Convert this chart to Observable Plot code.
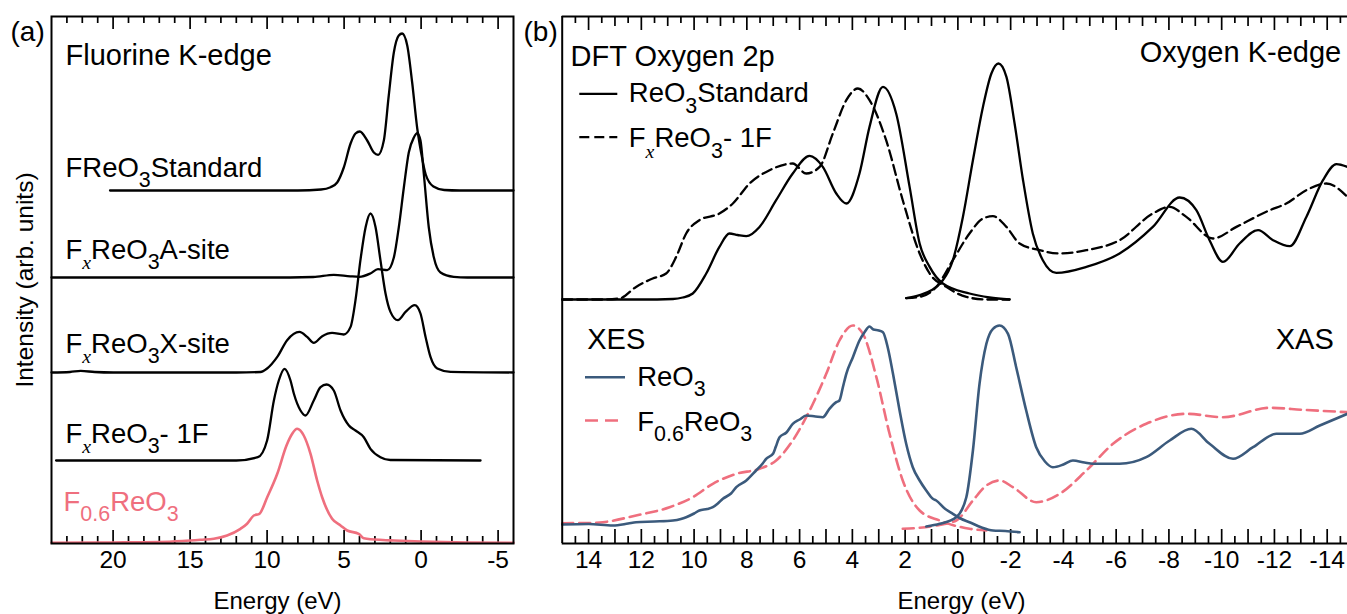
<!DOCTYPE html>
<html><head><meta charset="utf-8">
<script src="https://cdn.jsdelivr.net/npm/d3@7"></script>
<script src="https://cdn.jsdelivr.net/npm/@observablehq/plot@0.6"></script>
<style>
html,body{margin:0;padding:0;background:#fff;overflow:hidden}
#wrap{display:flex;width:1347px;height:614px;background:#fff}
svg{display:block}
</style></head><body><div id="wrap"></div>
<script>
// ---------- Panel (a): Fluorine K-edge, [energy (eV), intensity (arb.)] ----------
const fStandard = [[20.2,0],[8,0],[6.5,1],[5.88,3.3],[5.45,8],[5.02,23],[4.58,47],[4.26,57],[3.98,59],[3.5,50],[3.07,38],[2.79,35.7],[2.42,50],[2.10,95],[1.77,138],[1.45,155],[1.23,157],[0.90,145],[0.58,108],[0.25,62],[0.0,38],[-0.3,16],[-0.8,4],[-1.5,0.5],[-2.5,0],[-6,0]];
const fAsite = [[24,0],[10,0],[7,0.5],[5.67,2.7],[4.6,1.2],[4.0,0.7],[3.3,4],[2.8,8.3],[2.2,7.3],[1.77,20],[1.45,50],[1.12,90],[0.8,125],[0.47,140],[0.25,144.4],[0.04,137],[-0.18,103],[-0.5,50],[-0.83,20],[-1.26,5],[-2.12,0.7],[-3,0],[-6,0]];
const fXsite = [[24,0],[22.8,0.5],[22.1,1.6],[21.2,0.5],[20,0],[12,0],[10.43,0.5],[10.0,4],[9.34,15.6],[8.7,32.3],[7.9,40.6],[7.4,35.6],[6.97,29.6],[6.42,36.3],[5.78,39.6],[5.02,38],[4.58,45.6],[4.26,72.3],[3.94,112.3],[3.6,145.6],[3.29,159],[2.96,145.6],[2.64,112.3],[2.31,79],[1.99,60.6],[1.51,52.3],[1.01,60.6],[0.41,67.3],[0.04,59],[-0.29,35.6],[-0.61,15.6],[-1.05,4],[-1.91,0.6],[-6,0]];
const f1F = [[23.7,0],[12,0],[10.6,3.3],[10.0,20],[9.56,60],[9.24,80],[8.87,91.7],[8.48,80],[8.26,66.7],[7.83,50],[7.51,45],[6.97,60],[6.53,73.3],[6.14,76],[5.67,70],[5.23,50],[4.69,35],[4.26,30],[3.72,23.3],[3.29,11.7],[2.64,3.3],[2.0,0.5],[-3.86,0]];
const fXES06 = [[24,0.7],[20,1],[17,1.5],[15.5,2.5],[14.32,3.7],[13.46,4.7],[12.6,8],[11.73,14.7],[11.3,19.7],[10.86,28],[10.5,29.7],[10.0,46],[9.34,69.7],[8.74,98],[8.37,109.7],[8.05,114.7],[7.62,108],[7.18,89.7],[6.75,63],[6.42,46],[5.78,24.7],[5.23,18],[4.8,13],[4.05,9.7],[3.72,5.3],[2.5,3.5],[1.77,3],[0,2],[-3,1],[-6,0.7]];
const panelAOffsets = [353, 266, 171, 83, 0]; // vertical stacking of the five spectra
const panelALabels = ["FReO{3}Standard", "F[x]ReO{3}A-site", "F[x]ReO{3}X-site", "F[x]ReO{3}- 1F"];
const panelAPinkLabel = "F{0.6}ReO{3}";
const panelATitle = "Fluorine K-edge";
const panelATicks = [20, 15, 10, 5, 0, -5];

// ---------- Panel (b): Oxygen 2p DFT and O K-edge XES / XAS ----------
const dftStdVB = [[15,0],[12,0],[10.8,0.5],[10.43,2],[10.05,6],[9.54,26],[9.04,52.6],[8.66,66],[8.35,64.5],[8.02,63.3],[7.52,72.6],[6.89,99.3],[6.26,126],[5.62,143.6],[5.12,132.6],[4.61,106],[4.23,96],[3.73,126],[3.35,172.6],[2.84,212.6],[2.34,186],[1.83,112.6],[1.45,56],[1.07,32.6],[0.57,16],[-0.44,6],[-1.2,2],[-1.96,0]];
const dftFVB = [[15,0],[13.5,0],[12.83,1],[12.2,12.6],[11.57,21],[11.06,26],[10.68,42.6],[10.3,66],[9.8,79.3],[9.04,86],[8.53,96],[7.9,116],[7.14,129.3],[6.26,136],[5.75,126],[5.24,132.6],[4.74,166],[4.23,199.3],[3.79,211],[3.35,199.3],[2.72,159.3],[2.09,99.3],[1.45,46],[1.07,26],[0.44,12.6],[-0.32,2.6],[-1.08,0],[-1.96,0]];
const dftStdCB = [[1.96,1.3],[1.45,4.3],[0.57,19.3],[0.19,39.3],[-0.19,82.6],[-0.57,139.3],[-0.95,192.6],[-1.27,226],[-1.54,236],[-1.84,222.6],[-2.15,176],[-2.47,119.3],[-2.84,66],[-3.22,39.3],[-3.73,26.6],[-4.87,32.6],[-6.13,46],[-7.39,72.6],[-8.41,102],[-9.04,89.3],[-9.54,59.3],[-10.05,37.6],[-10.68,56],[-11.38,69.3],[-11.95,59.3],[-12.58,53.3],[-13.21,82.6],[-13.84,119.3],[-14.35,135.3],[-14.77,132.6]];
const dftFCB = [[1.96,1.3],[1.45,2.6],[0.82,12.6],[0.19,39.3],[-0.44,66],[-0.95,81],[-1.33,83.3],[-1.84,72.6],[-2.34,56],[-3.1,49.3],[-3.86,46],[-4.87,49.3],[-6.13,59.3],[-7.39,86],[-8.03,92.6],[-8.66,82.6],[-9.67,61],[-10.56,72.6],[-11.82,89.3],[-12.45,96],[-13.21,109.3],[-13.97,116],[-14.77,102.6]];
const xesReO3 = [[15,19],[14,19.5],[13.08,18],[12.5,20],[12.2,21.3],[11.5,22],[10.8,23],[10.5,24.5],[10.3,26.3],[10.0,30],[9.8,33],[9.5,34.5],[9.29,36.3],[9.1,40],[8.91,44.7],[8.6,50],[8.4,56.3],[8.02,63],[7.65,73],[7.4,80],[7.27,84.7],[7.0,90],[6.9,97],[6.76,106.3],[6.5,111],[6.26,119.7],[6.0,124],[5.75,128],[5.4,127],[5.12,126.3],[4.87,134.7],[4.61,141.3],[4.49,143],[4.36,156.3],[4.23,169.7],[3.98,186.3],[3.73,203],[3.54,211.3],[3.35,217],[3.2,214],[3.0,213],[2.84,211.3],[2.65,195],[2.46,169.7],[2.21,133],[1.96,99.7],[1.71,76.3],[1.45,63],[1.2,53],[0.95,44.7],[0.82,43],[0.5,35],[0.19,29.7],[-0.1,25],[-0.44,21.3],[-0.9,16],[-1.33,13],[-1.8,12.5],[-2.34,11.3]];
const xesF06 = [[15,20.3],[14,20.5],[13.46,21.3],[12.2,28],[10.93,36.3],[10.05,46.3],[9.29,59.7],[8.4,69.7],[7.52,74.7],[6.89,83],[6.26,103],[5.62,133],[4.99,169.7],[4.49,203],[3.98,218],[3.6,209.7],[3.09,166.3],[2.59,109.7],[2.09,63],[1.45,33],[0.69,23],[-0.44,14.7],[-1.08,13]];
const xasReO3 = [[1.2,17],[0.69,19.7],[0.06,26.3],[-0.32,46.3],[-0.57,93],[-0.82,159.7],[-1.08,199.7],[-1.33,214.7],[-1.58,218],[-1.9,209.7],[-2.21,176.3],[-2.59,133],[-2.97,96.3],[-3.3,82],[-3.6,76.3],[-4.0,79],[-4.36,83],[-4.8,81],[-5.12,79.7],[-6.13,79.7],[-7.14,86.3],[-8.03,103],[-8.85,114.7],[-9.54,99.7],[-10.43,84.7],[-11.19,96.3],[-12.07,109.7],[-12.96,109.7],[-13.72,118],[-14.77,129.7]];
const xasF06 = [[2.09,14.7],[0.82,18],[0.06,23],[-0.57,43],[-1.08,58],[-1.58,63],[-2.09,56.3],[-2.97,41.3],[-3.86,49.7],[-4.87,73],[-5.88,99.7],[-7.14,119.7],[-8.66,129.7],[-10.05,126.3],[-11.82,135.7],[-13.08,133.7],[-14.77,131.3]];
const dftOffset = 244;
const panelBTicks = [14, 12, 10, 8, 6, 4, 2, 0, -2, -4, -6, -8, -10, -12, -14];
const panelBLabels = {dft: "DFT Oxygen 2p", k: "Oxygen K-edge", std: "ReO{3}Standard", f1: "F[x]ReO{3}- 1F", xes: "XES", xas: "XAS", reo3: "ReO{3}", f06: "F{0.6}ReO{3}"};
const axisLabel = "Energy (eV)";
const yLabel = "Intensity (arb. units)";

// ---------- styling ----------
const FONT = "'Liberation Sans', Arial, Helvetica, sans-serif";
const BLUE = "#3b5a7c", PINK = "#ef6f7e";
const H = 614, MT = 16, MB = 71, IH = H - MT - MB;
const TITLE = 29, LAB = 27.5, TICK = 24.5;
const LW = 2.3;
const fx = d => d[0];

function txt(t, o) {
  return Plot.text([t], {text: d => d, lineAnchor: "bottom", textAnchor: "start", fontSize: LAB, fill: "black", ...o});
}
function ticks(values, len, top) {
  return Plot.ruleX(values, {x: d => d, stroke: "black", strokeWidth: 1.7, ...(top ? {insetBottom: IH - len} : {insetTop: IH - len})});
}

// ---------- Panel (a) ----------
const minorA = d3.range(-5, 24).filter(d => d % 5 !== 0);
const WA = 520, MLA = 51, MRA = 7;
const plotA = Plot.plot({
  width: WA, height: H, marginLeft: MLA, marginRight: MRA, marginTop: MT, marginBottom: MB,
  x: {domain: [24, -6], axis: null},
  y: {domain: [0, IH], axis: null},
  style: {fontFamily: FONT, background: "white", overflow: "visible"},
  marks: [
    ticks(minorA, 7, false), ticks(panelATicks, 13, false),
    ticks(minorA, 7, true), ticks(panelATicks, 13, true),
    Plot.axisX({anchor: "bottom", ticks: panelATicks, tickSize: 0, tickPadding: 7, fontSize: TICK, tickFormat: d => `${d}`, label: null}),
    Plot.line(fXES06, {x: fx, y: d => d[1] + panelAOffsets[4], stroke: PINK, strokeWidth: 2.6, curve: "monotone-x"}),
    Plot.line(f1F, {x: fx, y: d => d[1] + panelAOffsets[3], stroke: "black", strokeWidth: LW, curve: "monotone-x"}),
    Plot.line(fXsite, {x: fx, y: d => d[1] + panelAOffsets[2], stroke: "black", strokeWidth: LW, curve: "monotone-x"}),
    Plot.line(fAsite, {x: fx, y: d => d[1] + panelAOffsets[1], stroke: "black", strokeWidth: LW, curve: "monotone-x"}),
    Plot.line(fStandard, {x: fx, y: d => d[1] + panelAOffsets[0], stroke: "black", strokeWidth: LW, curve: "monotone-x"}),
    Plot.frame({stroke: "black", strokeWidth: 2}),
    txt("(a)", {frameAnchor: "top-left", dx: -41, dy: 24, fontSize: 28}),
    txt(panelATitle, {frameAnchor: "top-left", dx: 14, dy: 48, fontSize: TITLE}),
    txt(panelALabels[0], {frameAnchor: "top-left", dx: 14, dy: 160}),
    txt(panelALabels[1], {frameAnchor: "top-left", dx: 14, dy: 242}),
    txt(panelALabels[2], {frameAnchor: "top-left", dx: 14, dy: 336}),
    txt(panelALabels[3], {frameAnchor: "top-left", dx: 14, dy: 426}),
    txt(panelAPinkLabel, {frameAnchor: "top-left", dx: 12, dy: 494, fill: PINK}),
    Plot.text([yLabel], {text: d => d, frameAnchor: "left", textAnchor: "middle", lineAnchor: "middle", dx: -26, rotate: -90, fontSize: 24.5, fill: "black"}),
    txt(axisLabel, {frameAnchor: "bottom", textAnchor: "middle", dx: -5, dy: 65, fontSize: 24})
  ]
});

// ---------- Panel (b) ----------
const halvesB = d3.range(-29, 30).map(d => d / 2).filter(d => !Number.isInteger(d));
const intsB = d3.range(-14, 15);
const oddB = intsB.filter(d => d % 2 !== 0);
const WB = 827, MLB = 41.7, IWB = WB - MLB;
const plotB = Plot.plot({
  width: WB, height: H, marginLeft: MLB, marginRight: 0, marginTop: MT, marginBottom: MB,
  x: {domain: [15, -14.77], axis: null},
  y: {domain: [0, IH], axis: null},
  style: {fontFamily: FONT, background: "white", overflow: "visible"},
  marks: [
    ticks(halvesB, 7, false), ticks(intsB, 14, false),
    ticks(halvesB, 7, true), ticks(oddB, 10, true), ticks(panelBTicks, 14, true),
    Plot.axisX({anchor: "bottom", ticks: panelBTicks, tickSize: 0, tickPadding: 7, fontSize: TICK, tickFormat: d => `${d}`, label: null}),
    Plot.line(dftStdVB, {x: fx, y: d => d[1] + dftOffset, stroke: "black", strokeWidth: LW, curve: "monotone-x"}),
    Plot.line(dftFVB, {x: fx, y: d => d[1] + dftOffset, stroke: "black", strokeWidth: LW, strokeDasharray: "10,5", curve: "monotone-x"}),
    Plot.line(dftStdCB, {x: fx, y: d => d[1] + dftOffset, stroke: "black", strokeWidth: LW, curve: "monotone-x"}),
    Plot.line(dftFCB, {x: fx, y: d => d[1] + dftOffset, stroke: "black", strokeWidth: LW, strokeDasharray: "10,5", curve: "monotone-x"}),
    Plot.line(xesF06, {x: fx, y: d => d[1], stroke: PINK, strokeWidth: 2.6, strokeDasharray: "11,6", curve: "monotone-x"}),
    Plot.line(xasF06, {x: fx, y: d => d[1], stroke: PINK, strokeWidth: 2.6, strokeDasharray: "11,6", curve: "monotone-x"}),
    Plot.line(xesReO3, {x: fx, y: d => d[1], stroke: BLUE, strokeWidth: 2.6, curve: "monotone-x"}),
    Plot.line(xasReO3, {x: fx, y: d => d[1], stroke: BLUE, strokeWidth: 2.6, curve: "monotone-x"}),
    Plot.ruleX([15], {stroke: "black", strokeWidth: 2}),
    Plot.ruleY([0, IH], {stroke: "black", strokeWidth: 2}),
    // legend swatches (frame-relative pixel placement)
    Plot.ruleY([0], {stroke: "black", strokeWidth: LW, insetLeft: 17.6, insetRight: IWB - 55.6, dy: -(543 - 93.3)}),
    Plot.ruleY([0], {stroke: "black", strokeWidth: LW, strokeDasharray: "10,5", insetLeft: 17.6, insetRight: IWB - 55.6, dy: -(543 - 136.7)}),
    Plot.ruleY([0], {stroke: BLUE, strokeWidth: 2.6, insetLeft: 23.3, insetRight: IWB - 63.3, dy: -(543 - 376.7)}),
    Plot.ruleY([0], {stroke: PINK, strokeWidth: 2.6, strokeDasharray: "13,7", insetLeft: 23.3, insetRight: IWB - 63.3, dy: -(543 - 420)}),
    txt("(b)", {frameAnchor: "top-left", dx: -38.7, dy: 24, fontSize: 28}),
    txt(panelBLabels.dft, {frameAnchor: "top-left", dx: 8.3, dy: 49, fontSize: TITLE}),
    txt(panelBLabels.std, {frameAnchor: "top-left", dx: 66.6, dy: 85.7}),
    txt(panelBLabels.f1, {frameAnchor: "top-left", dx: 66.6, dy: 130.7}),
    txt(panelBLabels.k, {frameAnchor: "top-right", textAnchor: "end", dx: -6.3, dy: 45.7, fontSize: TITLE}),
    txt(panelBLabels.xes, {frameAnchor: "top-left", dx: 25, dy: 332.3, fontSize: TITLE}),
    txt(panelBLabels.reo3, {frameAnchor: "top-left", dx: 75, dy: 369}),
    txt(panelBLabels.f06, {frameAnchor: "top-left", dx: 75, dy: 414}),
    txt(panelBLabels.xas, {frameAnchor: "top-right", textAnchor: "end", dx: -13.7, dy: 332.3, fontSize: TITLE}),
    txt(axisLabel, {frameAnchor: "bottom", textAnchor: "middle", dx: 6.7, dy: 65, fontSize: 24})
  ]
});

const wrap = document.getElementById("wrap");
wrap.appendChild(plotA);
wrap.appendChild(plotB);

// subscripts: {..} plain subscript, [..] italic serif subscript
function richText(root) {
  const NS = "http://www.w3.org/2000/svg";
  root.querySelectorAll("text").forEach(t => {
    const s = t.textContent;
    if (!/[{\[]/.test(s)) return;
    const fs = parseFloat(getComputedStyle(t).fontSize) || 27;
    t.textContent = "";
    const re = /\{([^}]*)\}|\[([^\]]*)\]|([^{\[]+)/g;
    let m, shifted = 0;
    while ((m = re.exec(s))) {
      const ts = document.createElementNS(NS, "tspan");
      if (m[3] !== undefined) {
        ts.textContent = m[3];
        if (shifted) { ts.setAttribute("dy", -shifted); shifted = 0; }
      } else {
        const italic = m[2] !== undefined;
        ts.textContent = italic ? m[2] : m[1];
        ts.setAttribute("font-size", fs * (italic ? 0.72 : 0.78));
        const sh = fs * 0.38;
        ts.setAttribute("dy", sh - shifted); shifted = sh;
        if (italic) { ts.setAttribute("font-family", "'Liberation Serif', 'DejaVu Serif', serif"); ts.setAttribute("font-style", "italic"); }
      }
      t.appendChild(ts);
    }
  });
}
richText(wrap);
</script></body></html>
